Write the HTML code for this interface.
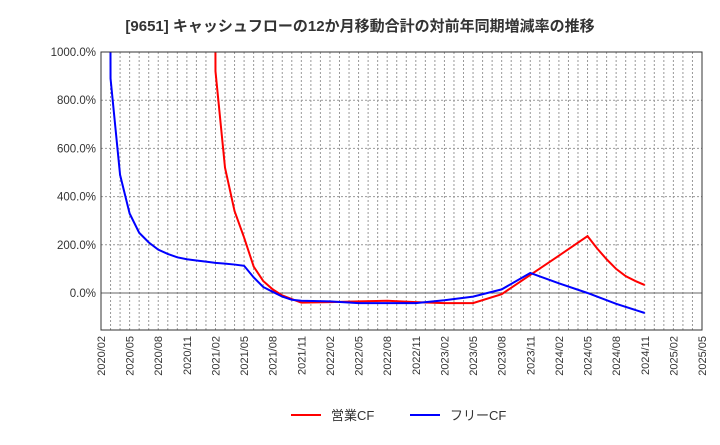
<!DOCTYPE html>
<html><head><meta charset="utf-8"><style>
body{margin:0;background:#fff;font-family:"Liberation Sans","Noto Sans CJK JP",sans-serif}
</style></head><body>
<svg id="c" width="720" height="440" xmlns="http://www.w3.org/2000/svg">
<text x="360" y="31" text-anchor="middle" font-size="15" font-weight="bold" fill="#333" font-family="Liberation Sans,Noto Sans CJK JP,sans-serif">[9651]  キャッシュフローの12か月移動合計の対前年同期増減率の推移</text>
<g id="grid"></g><g id="series"></g><g id="axes"></g>
<g>
<line x1="291" y1="415" x2="321" y2="415" stroke="#f00" stroke-width="2"/>
<text x="331" y="420" font-size="13" fill="#333">営業CF</text>
<line x1="410" y1="415" x2="440" y2="415" stroke="#00f" stroke-width="2"/>
<text x="450" y="420" font-size="13" fill="#333">フリーCF</text>
</g>
</svg>
<script>
// month index from 2020/02
const tickLabels=["2020/02","2020/05","2020/08","2020/11","2021/02","2021/05","2021/08","2021/11","2022/02","2022/05","2022/08","2022/11","2023/02","2023/05","2023/08","2023/11","2024/02","2024/05","2024/08","2024/11","2025/02","2025/05"];
const yTicks=[0,200,400,600,800,1000];
const redMonths=[11,12,13,14,15,16,17,18,19,20,21,24,27,30,33,36,39,42,45,48,51,52,53,54,55,56,57];
const redVals=[20000,920,520,340,230,110,50,15,-10,-25,-40,-38,-35,-32,-38,-42,-42,-5,75,155,236,185,140,100,70,50,33];
const blueMonths=[0,1,2,3,4,5,6,7,8,9,10,11,12,13,14,15,16,17,18,19,20,21,24,27,30,33,36,39,42,45,48,51,54,57];
const blueVals=[20000,890,490,330,250,210,180,162,148,140,135,130,125,122,118,113,65,25,5,-15,-28,-32,-35,-42,-42,-42,-30,-15,15,83,40,0,-45,-83];
const x0=101,x1=702,y0=52,y1=330,nMonths=63;
const X=m=>x0+m*(x1-x0)/nMonths;
const Y=v=>293-v*(293-52)/1000;
const ns="http://www.w3.org/2000/svg";
function mk(t,a,p){const e=document.createElementNS(ns,t);for(const k in a)e.setAttribute(k,a[k]);p.appendChild(e);return e;}
const grid=document.getElementById('grid'),axes=document.getElementById('axes'),ser=document.getElementById('series');
const cp=mk('clipPath',{id:'cp'},grid);
mk('rect',{x:x0,y:y0,width:x1-x0,height:y1-y0},cp);
for(let m=1;m<nMonths;m++){const l=mk('line',{x1:X(m),x2:X(m),y1:y0,y2:y1,stroke:'#999','stroke-dasharray':'2,2','stroke-width':1},grid);

}
yTicks.forEach(v=>{const l=mk('line',{x1:x0,x2:x1,y1:Y(v),y2:Y(v),stroke:v===0?'#666':'#999','stroke-dasharray':v===0?'none':'2,2'},grid);


const t=mk('text',{x:x0-5,y:Y(v)+4,'text-anchor':'end','font-size':11.5,fill:'#333'},axes);t.textContent=v.toFixed(1)+'%';

});
tickLabels.forEach((s,i)=>{const x=X(i*3);const t=mk('text',{x:x+4,y:y1+6,'text-anchor':'end','font-size':11,fill:'#333',transform:`rotate(-90 ${x+4} ${y1+6})`},axes);t.textContent=s;

});
const fr=mk('rect',{x:x0,y:y0,width:x1-x0,height:y1-y0,fill:'none',stroke:'#333'},axes);


function line(ms,vs,c,name){const p=mk('polyline',{points:ms.map((m,i)=>X(m)+','+Y(vs[i])).join(' '),fill:'none',stroke:c,'stroke-width':2,'clip-path':'url(#cp)'},ser);

}
line(redMonths,redVals,'#f00','eigyo-cf-line');
line(blueMonths,blueVals,'#00f','free-cf-line');
</script>
</body></html>
